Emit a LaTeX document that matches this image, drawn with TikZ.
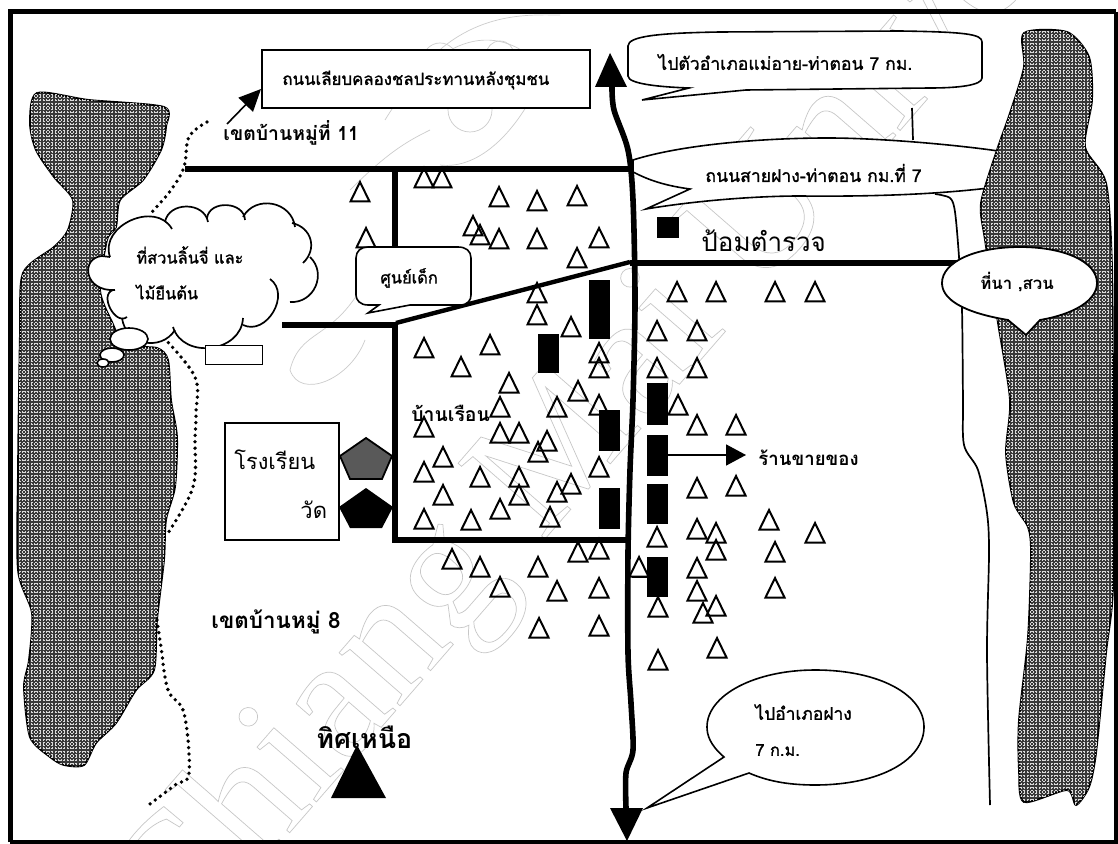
\documentclass[tikz,border=0pt]{standalone}
\usepackage{fontspec}
\newfontfamily\thaifont[Script=Thai]{Loma}
\newfontfamily\thaiheavy[Script=Thai,FakeBold=1.3]{Loma}
\newfontfamily\markfont{Liberation Serif}
\usetikzlibrary{arrows.meta,shapes.geometric}
\tikzset{
  road/.style={line width=2.7pt,line cap=butt},
  mainroad/.style={line width=2.8pt},
  thinroad/.style={line width=0.85pt},
  dotline/.style={line width=1.9pt,line cap=round,dash pattern=on 0pt off 3.2pt},
  tree/.style={line width=1pt,line join=miter},
  house/.style={fill=black},
  bubble/.style={draw=black,fill=white,line width=0.8pt},
  blobfill/.style={fill=black!78},
  meshline/.style={black!15,line width=0.7pt,dash pattern=on 0.7pt off 0.8pt},
  crest/.style={black!20,line width=0.35pt},
  lbl/.style={font=\thaiheavy\fontsize{8.2}{10}\selectfont,inner sep=0pt,anchor=west},
  lblb/.style={font=\thaifont\bfseries\fontsize{9.7}{11}\selectfont,inner sep=0pt,anchor=west},
  lbig/.style={font=\thaifont\fontsize{13}{15}\selectfont,inner sep=0pt,anchor=west}
}
\newcommand{\leftblobpath}{plot[smooth cycle,tension=0.45] coordinates {(37,93) (89,100) (164,107) (166,127) (161,150) (143,180) (120,200) (116,227) (107,240) (100,290) (112,322) (125,345) (157,348) (168,360) (171,400) (177,437) (175,487) (166,520) (164,560) (157,620) (154,670) (136,690) (116,723) (96,743) (84,765) (64,765) (50,757) (30,737) (24,687) (29,660) (32,613) (18,570) (18,470) (20,333) (23,273) (54,247) (68,230) (73,200) (54,177) (36,150) (30,123)}}
\newcommand{\rightblobpath}{plot[smooth cycle,tension=0.45] coordinates {(1024,33) (1067,32) (1089,57) (1092,100) (1085,147) (1106,183) (1112,267) (1113,420) (1113,587) (1106,653) (1096,753) (1089,787) (1076,805) (1067,790) (1024,802) (1019,770) (1019,720) (1028,637) (1031,553) (1028,527) (1014,503) (1006,453) (1010,400) (998,323) (985,240) (981,203) (997,150) (1010,113) (1024,67)}}
\newcommand{\meshover}[2]{%
  \foreach \my in {28,32,...,812} \draw[meshline] (#1,\my) -- (#2,\my);
  \foreach \mx in {#1,\the\numexpr#1+4\relax,...,#2} \draw[meshline] (\mx,28) -- (\mx,812);}
\begin{document}
\begin{tikzpicture}[x=0.5pt,y=-0.5pt]
\useasboundingbox (0,0) rectangle (1118,844);
\fill[white] (0,0) rectangle (1118,844);
% faint background mark
\begin{scope}
\clip (0,0) rectangle (1118,844);
\node[rotate=49,anchor=base west,inner sep=0pt,font=\markfont\fontsize{88}{96}\selectfont,text=black!35] (mark) at (179,960)
  {\special{pdf:code q 1 Tr 0.35 w 0.78 G}Chiang Mai University\special{pdf:code 0 Tr Q}};
\draw[crest] (385,120) .. controls (440,30) and (500,20) .. (545,70) .. controls (520,130) and (480,170) .. (440,165);
\draw[crest] (420,70) .. controls (470,10) and (530,15) .. (560,15);
\draw[crest] (470,110) circle (22);
\draw[crest] (440,60) circle (17);
\draw[crest] (500,55) circle (14);
\draw[crest] (350,190) .. controls (390,150) and (410,140) .. (430,130);
\draw[crest] (360,290) .. controls (330,340) and (300,330) .. (290,370) .. controls (300,400) and (350,380) .. (365,340);
\end{scope}
% frame
\draw[line width=2.5pt] (10,842) -- (10,12) -- (1116,12);
\draw[line width=1.8pt] (1116,12) -- (1116,842) -- (10,842);
% callout B (under the blob)
\draw[bubble] (690,189) .. controls (660,185) and (645,178) .. (633,172) -- (633,160)
  .. controls (680,145) and (760,138) .. (828,138) .. controls (880,138) and (960,145) .. (1005,152)
  -- (1005,186) .. controls (960,192) and (900,197) .. (800,196) .. controls (760,196) and (700,200) .. (646,209) -- cycle;
\draw[thinroad] (912,108) -- (913,140);
% thin road
\draw[thinroad] plot[smooth,tension=0.5] coordinates {(935,194) (950,198) (955,212) (959,257) (962,310) (963,400) (964,445) (978,470) (987,513) (989,553) (987,653) (990,805)};
% blobs
\path[blobfill,draw=black,line width=0.9pt] \leftblobpath;
\path[blobfill,draw=black,line width=0.9pt] \rightblobpath;
\begin{scope}
\clip \leftblobpath;
\meshover{16}{180}
\end{scope}
\begin{scope}
\clip \rightblobpath;
\meshover{976}{1116}
\end{scope}
% dotted boundary
\draw[dotline] plot[smooth,tension=0.6] coordinates {(207,122) (189,137) (184,167) (171,190) (152,212)};
\draw[dotline] plot[smooth,tension=0.6] coordinates {(164,338) (195,377) (196,413) (195,440) (193,487) (168,533)};
\draw[dotline] plot[smooth,tension=0.6] coordinates {(157,620) (161,647) (168,690) (184,713) (189,773) (175,785) (146,807)};
% local roads
\draw[road] (185,169) -- (631,169);
\draw[road] (395,169) -- (395,250);
\draw[road] (282,325) -- (396,325);
\draw[road] (395,323) -- (395,540) -- (630,540);
\draw[line width=2.2pt] (396,323) -- (630,262);
\draw[road] (630,263) -- (965,263);
% trees
\foreach \x/\y in {360/192,424/178,442/178,499/197,537/201,366/238,473/226,480/235,499/239,537/239,537/293,537/315,424/348,490/345,461/367,509/383,500/407,557/407,
577/196,599/238,577/258,677/292,716/292,775/292,815/292,657/331,697/331,571/327,599/353,599/368,657/368,697/368,578/391,599/405,678/405,
697/425,736/425,599/467,571/484,697/488,736/486,769/520,815/533,697/529,716/533,716/550,775/552,657/537,578/552,599/549,639/567,697/568,775/588,599/588,697/591,716/606,658/607,703/613,599/626,717/648,658/660,
424/427,500/433,519/433,547/441,538/452,443/457,424/472,480/477,519/477,519/495,443/495,557/492,500/509,424/519,471/520,550/517,452/559,480/567,538/567,500/587,557/591,539/628}
  \draw[tree,shift={(\x,\y)}] (-9.5,9.5) -- (0,-10) -- (9.5,9.5) -- cycle;
% houses
\fill[house] (657,217) rectangle (679,238);
\foreach \xa/\ya/\xb/\yb in {589/280/610/339,538/334/559/373,647/383/668/425,599/410/620/451,647/435/668/476,599/488/620/529,647/484/668/524,647/557/668/597}
  \fill[house] (\xa,\ya) rectangle (\xb,\yb);
\draw[line width=0.7pt] (632,577) -- (647,577);
% main road
\draw[mainroad] plot[smooth,tension=0.5] coordinates {(612,87) (614,110) (628,150) (633,200) (635,300) (633,400) (630,470) (628,553) (628,653) (631,703) (633,750) (626,773) (626,808)};
\fill (610,53) -- (627,87) -- (595,87) -- cycle;
\fill (610,808) -- (643,808) -- (627,841) -- cycle;
% top box
\node[draw=black,line width=0.9pt,fill=white,minimum width=164pt,minimum height=29pt,inner sep=0pt,anchor=north west] (topbox) at (261,49) {};
\node[lbl,font=\thaiheavy\fontsize{8.4}{10}\selectfont] (toptext) at (282,80) {ถนนเลียบคลองชลประทานหลังชุมชน};
\coordinate (boxarrow) at (227,124);
\draw[line width=0.8pt,-{Triangle[length=11pt,width=10pt]}] (boxarrow) -- (261,89);
\node[lblb] (moo11) at (223,133) {เขตบ้านหมู่ที่ 11};
% callout A
\draw[bubble] (689,88) .. controls (660,87) and (628,84) .. (628,76) -- (628,46) .. controls (628,36) and (660,33) .. (720,32)
  -- (900,31) .. controls (965,32) and (982,34) .. (982,42) -- (982,78) .. controls (982,85) and (960,88) .. (930,88)
  -- (746,90) -- (642,100) -- cycle;
\node[lbl,font=\thaiheavy\fontsize{8.8}{10}\selectfont] (atext) at (658,62) {ไปตัวอำเภอแม่อาย-ท่าตอน 7 กม.};
\node[lbl,font=\thaiheavy\fontsize{8.8}{10}\selectfont] (btext) at (705,173) {ถนนสายฝาง-ท่าตอน กม.ที่ 7};
\node[lbig] (police) at (701,241) {ป้อมตำรวจ};
% field callout
\draw[bubble,line width=0.9pt] (1008,320) .. controls (960,312) and (942,298) .. (942,283) .. controls (942,262) and (975,247) .. (1020,247)
  .. controls (1065,247) and (1097,262) .. (1097,283) .. controls (1097,300) and (1075,314) .. (1040,320) -- (1026,335) -- cycle;
\node[lblb,font=\thaifont\bfseries\fontsize{8.4}{10}\selectfont] (field) at (980,282) {ที่นา ,สวน};
% child centre
\draw[bubble] (368,313) -- (379,305) -- (368,305) .. controls (360,305) and (356,300) .. (356,295) -- (356,258) .. controls (356,251) and (361,247) .. (368,247)
  -- (458,247) .. controls (466,247) and (471,251) .. (471,258) -- (471,295) .. controls (471,300) and (468,305) .. (460,305) -- (410,305) -- cycle;
\node[lbl] (child) at (380,278) {ศูนย์เด็ก};
% cloud
\fill[white] (110,257) -- (172,229) -- (208,222) -- (245,220) -- (295,227) -- (310,257) -- (290,302) -- (243,322) -- (173,327) -- (122,318) -- (113,290) -- (102,257) -- cycle;
\fill[white] (115,290) .. controls (84,292) and (80,258) .. (102,256) -- cycle;
\foreach \ax/\ay/\bx/\by/\bnd in {110/257/172/229/85,165/222/208/222/80,207/218/245/220/85,243/217/295/227/72,292/223/303/263/62,310/257/290/302/70,270/279/243/325/85,243/318/173/327/80,175/330/122/318/70,127/317/113/290/100}
  \fill[white] (\ax,\ay) to[bend left=\bnd,looseness=1.25] (\bx,\by);
\foreach \ax/\ay/\bx/\by/\bnd in {110/257/172/229/85,165/222/208/222/80,207/218/245/220/85,243/217/295/227/72,292/223/303/263/62,310/257/290/302/70,270/279/243/325/85,243/318/173/327/80,175/330/122/318/70,127/317/113/290/100}
  \draw[line width=0.85pt] (\ax,\ay) to[bend left=\bnd,looseness=1.25] (\bx,\by);
\draw[line width=0.85pt] (115,290) .. controls (84,292) and (80,258) .. (102,256) -- (110,257);
\node[draw=black,fill=white,line width=0.8pt,ellipse,minimum width=19pt,minimum height=11pt,inner sep=0pt] (t1) at (129,339) {};
\node[draw=black,fill=white,line width=0.8pt,ellipse,minimum width=12pt,minimum height=7pt,inner sep=0pt] (t2) at (112,355) {};
\node[draw=black,fill=white,line width=0.8pt,ellipse,minimum width=6pt,minimum height=4pt,inner sep=0pt] (t3) at (103,363) {};
\node[lbl] (c1) at (136,255) {ที่สวนลิ้นจี่ และ};
\node[lbl] (c2) at (136,292) {ไม้ยืนต้น};
% small rect
\node[draw=black,fill=white,line width=0.7pt,minimum width=28.5pt,minimum height=9.5pt,inner sep=0pt,anchor=north west] (rect) at (205,345) {};
% school
\node[draw=black,fill=white,line width=0.8pt,minimum width=57pt,minimum height=58.5pt,inner sep=0pt,anchor=north west] (school) at (224,422) {};
\node[lbig,font=\thaifont\fontsize{10.9}{14}\selectfont] (school1) at (234,460) {โรงเรียน};
\node[lbig,font=\thaifont\fontsize{11}{14}\selectfont] (school2) at (300,510) {วัด};
% temples
\draw[fill=black!65,draw=black,line width=0.9pt] (366,438) -- (392,456) -- (382,479) -- (350,479) -- (340,456) -- cycle;
\fill (366,488) -- (393,507) -- (382,528) -- (350,528) -- (339,507) -- cycle;
% labels
\node[lblb] (ban) at (411,413) {บ้านเรือน};
\node[lblb,font=\thaifont\bfseries\fontsize{9.3}{11}\selectfont] (shop) at (758,458) {ร้านขายของ};
\coordinate (shoparrow) at (668,455);
\coordinate (shoptip) at (746,455);
\draw[line width=0.8pt,-{Triangle[length=10pt,width=10.5pt]}] (shoparrow) -- (shoptip);
\node[lblb,font=\thaifont\bfseries\fontsize{11.2}{13}\selectfont] (moo8) at (211,622) {เขตบ้านหมู่ 8};
\fill (357,745) -- (386,798) -- (331,798) -- cycle;
\node[lblb,font=\thaifont\bfseries\fontsize{13.4}{15}\selectfont] (north) at (316,737) {ทิศเหนือ};
% bottom callout
\draw[bubble] (647,808) -- (724,757) .. controls (710,745) and (707,735) .. (707,727) .. controls (707,695) and (755,670) .. (815,670)
  .. controls (880,670) and (924,695) .. (924,727) .. controls (924,760) and (880,785) .. (815,785) .. controls (785,785) and (765,780) .. (749,773) -- cycle;
\node[lbl,font=\thaiheavy\fontsize{8.7}{10}\selectfont] (f1) at (755,712) {ไปอำเภอฝาง};
\node[lbl] (f2) at (755,750) {7 ก.ม.};
\end{tikzpicture}
\end{document}
